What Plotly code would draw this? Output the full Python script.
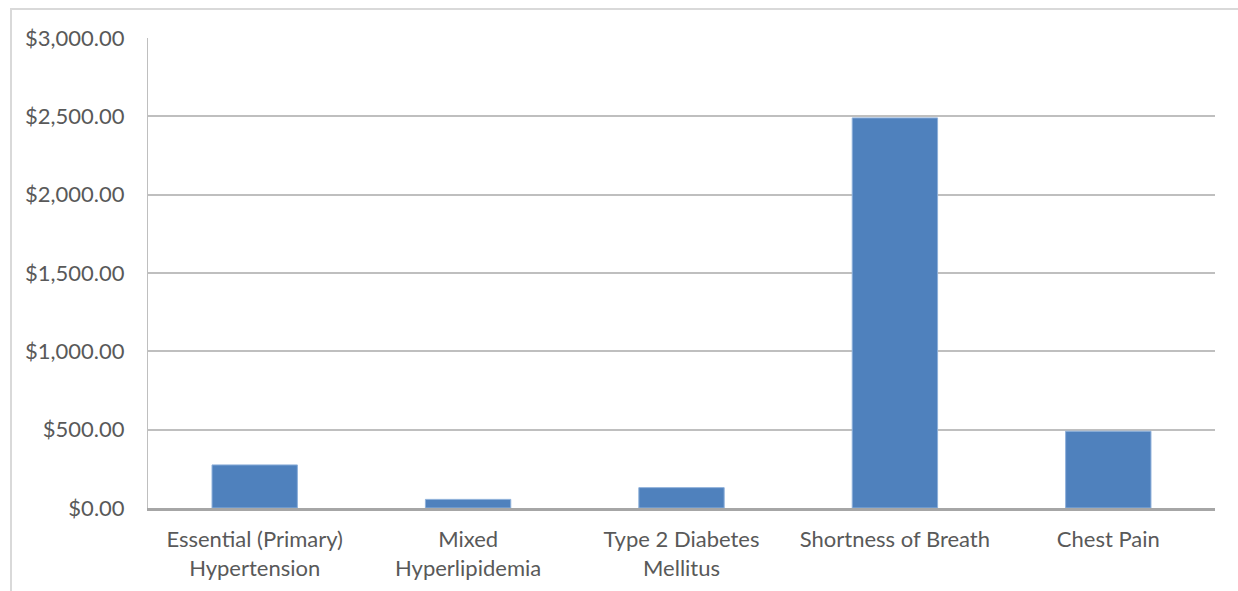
import plotly.graph_objects as go

# Cost per diagnosis
categories = [
    "Essential (Primary)<br>Hypertension",
    "Mixed<br>Hyperlipidemia",
    "Type 2 Diabetes<br>Mellitus",
    "Shortness of Breath",
    "Chest Pain",
]
costs = [275, 55, 130, 2490, 490]
y_ticks = [0, 500, 1000, 1500, 2000, 2500, 3000]

W, H = 1238, 591
L, R, T, B = 148, 23, 38, 83
plot_w = W - L - R
plot_h = H - T - B

fig = go.Figure(
    go.Bar(
        x=categories,
        y=costs,
        marker=dict(color="#4F81BD", line=dict(color="#8EB0DA", width=1)),
        hoverinfo="skip",
    )
)

font_family = "Lato, Open Sans, sans-serif"

fig.update_layout(
    width=W,
    height=H,
    margin=dict(l=L, r=R, t=T, b=B),
    paper_bgcolor="white",
    plot_bgcolor="white",
    bargap=0.6,
    showlegend=False,
    font=dict(family=font_family, size=22, color="#595959"),
    xaxis=dict(
        automargin=False,
        showgrid=False,
        showline=True,
        linecolor="#A6A6A6",
        linewidth=3,
        ticks="",
        ticklabelstandoff=10,
        tickfont=dict(size=22, color="#595959"),
    ),
    yaxis=dict(
        automargin=False,
        range=[0, 3000],
        tickvals=y_ticks,
        ticktext=[f"${v:,.2f}" for v in y_ticks],
        showgrid=True,
        gridcolor="#BFBFBF",
        gridwidth=2,
        zeroline=False,
        showline=True,
        linecolor="#BFBFBF",
        linewidth=1,
        ticks="",
        ticklabelstandoff=18,
        tickfont=dict(size=22, color="#595959"),
    ),
)

# Light chart-area border along the top and left edges
def px_x(px):
    return (px - L) / plot_w

def px_y(py):
    return (H - B - py) / plot_h

fig.add_shape(type="line", xref="paper", yref="paper",
              x0=px_x(10), x1=px_x(W + 5), y0=px_y(9), y1=px_y(9),
              line=dict(color="#D9D9D9", width=2))
fig.add_shape(type="line", xref="paper", yref="paper",
              x0=px_x(11), x1=px_x(11), y0=px_y(9), y1=px_y(H + 5),
              line=dict(color="#D9D9D9", width=2))

fig.write_html("out.html")
